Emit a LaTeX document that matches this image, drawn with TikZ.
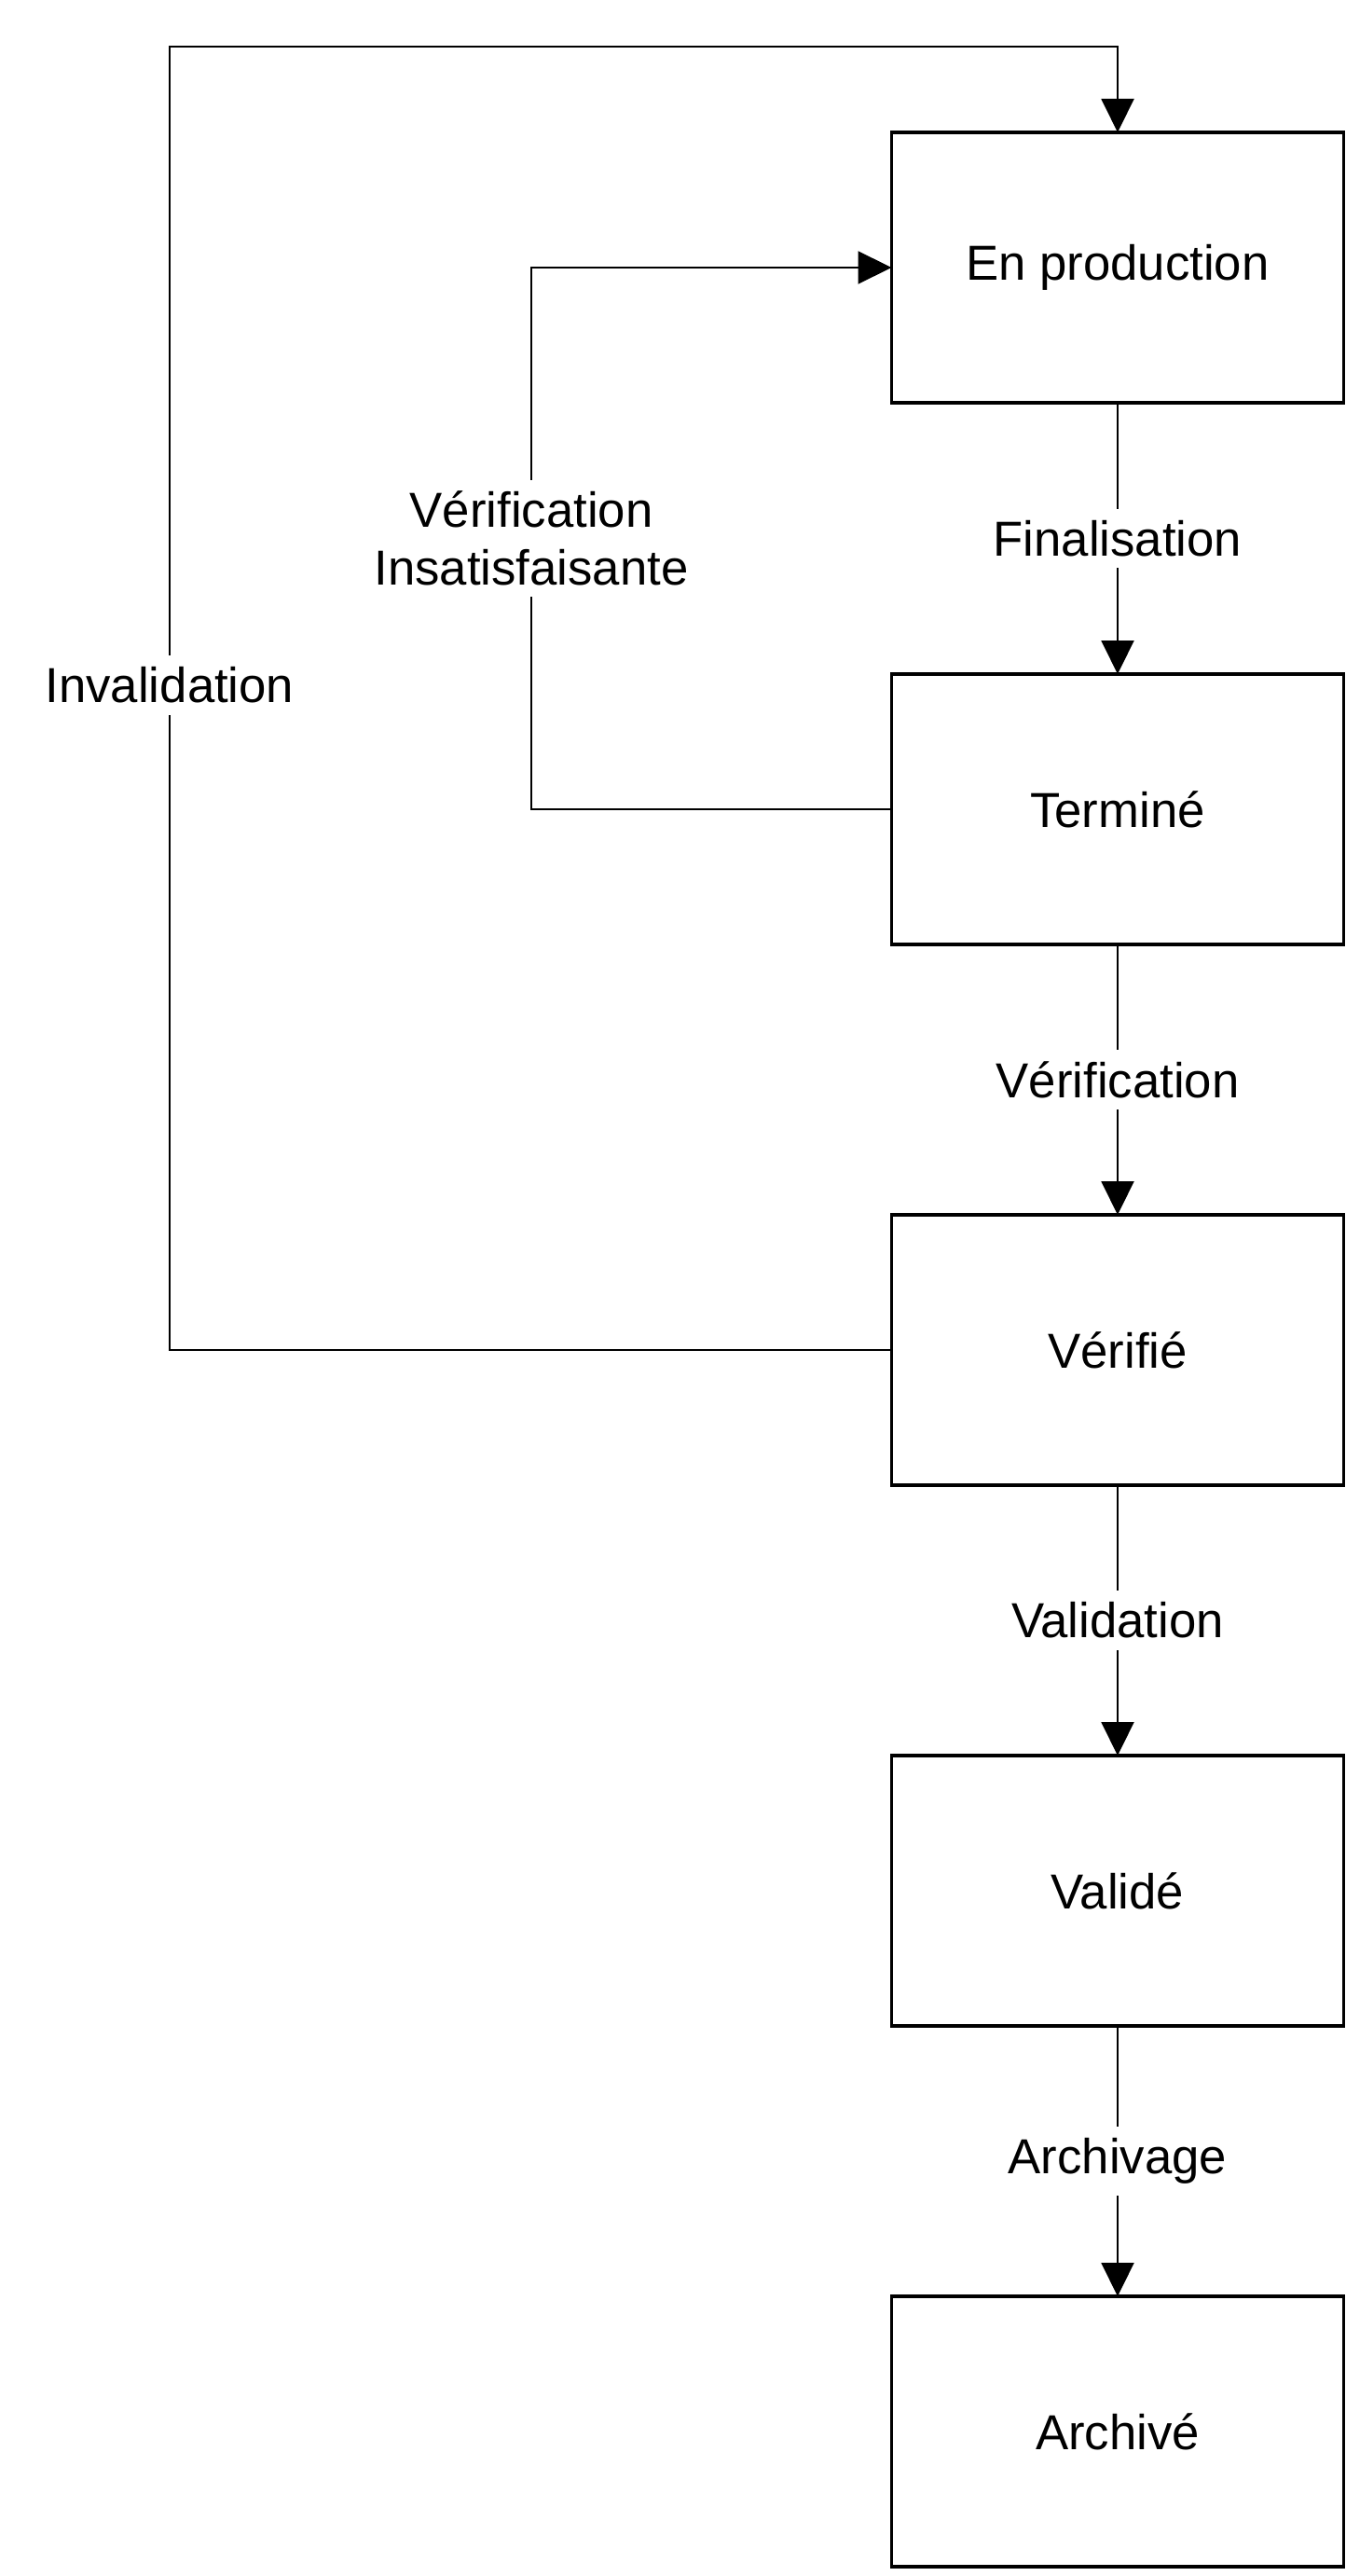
\documentclass[tikz,border=0pt]{standalone}
\usepackage{fontspec}
\setmainfont{Liberation Sans}
\usetikzlibrary{arrows.meta}

\begin{document}
\begin{tikzpicture}[
    etat/.style={draw, line width=0.9pt, minimum width=4.85cm, minimum height=2.9cm, outer sep=0pt},
    lbl/.style={fill=white, inner sep=3.5pt, align=center},
    fl/.style={-{Triangle[length=3.6mm, width=3.5mm]}, line width=0.6pt},
    font=\fontsize{15}{17.6}\selectfont]
            \useasboundingbox (0,0) rectangle (14.43,-27.63);

            \node[etat] (EP) at (11.99,-2.87) {En production};
            \node[etat] (TE) at (11.99,-8.68) {Terminé};
            \node[etat] (VE) at (11.99,-14.48) {Vérifié};
            \node[etat] (VA) at (11.99,-20.28) {Validé};
            \node[etat] (AR) at (11.99,-26.08) {Archivé};

            \draw[fl] (EP) -- node[lbl] {Finalisation} (TE);
            \draw[fl] (TE) -- node[lbl] {Vérification} (VE);
            \draw[fl] (VE) -- node[lbl] {Validation} (VA);
            \draw[fl] (VA) -- node[lbl] {Archivage} (AR);
            \draw[fl] (TE.west) -| node[lbl, pos=0.75] {Vérification\\Insatisfaisante} (5.70,-2.87) -- (EP.west);
            \draw[fl] (VE.west) -| node[lbl, pos=0.755] {Invalidation} (1.82,-0.50) -| (EP.north);
        \end{tikzpicture}
\end{document}
